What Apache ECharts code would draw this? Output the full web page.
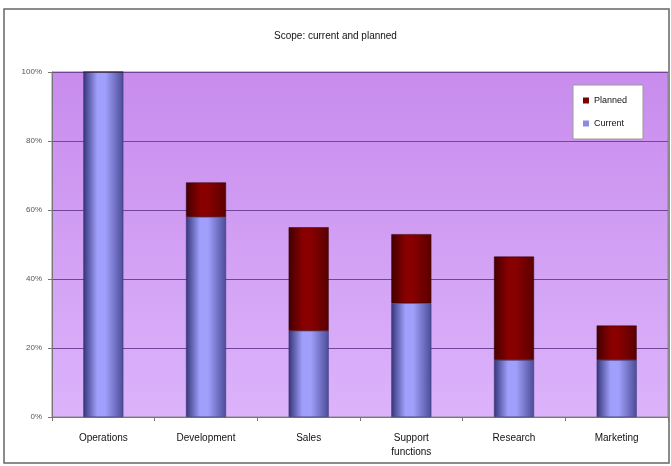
<!DOCTYPE html>
<html>
<head>
<meta charset="utf-8">
<script src="https://cdn.jsdelivr.net/npm/echarts@6/dist/echarts.min.js"></script>
<style>
  html, body { margin: 0; padding: 0; background: #fff; }
  #chart { width: 671px; height: 466px; }
</style>
</head>
<body>
<div id="chart"></div>
<script>
const categories = ['Operations', 'Development', 'Sales', 'Support\nfunctions', 'Research', 'Marketing'];
const currentValues = [100, 58, 25, 33, 16.5, 16.5];
const plannedValues = [0, 10, 30, 20, 30, 10];
const yTicks = [0, 20, 40, 60, 80, 100];

var myChart = echarts.init(document.getElementById('chart'));

// horizontal shading like the old office bars: dark edges, light middle
const barGrad = (left, mid, right) =>
  new echarts.graphic.LinearGradient(0, 0, 1, 0, [
    { offset: 0, color: left },
    { offset: 0.35, color: mid },
    { offset: 0.55, color: mid },
    { offset: 1, color: right },
  ]);

myChart.setOption({
  backgroundColor: '#fff',
  animation: false,
  textStyle: { fontFamily: 'Liberation Sans, Arial, sans-serif' },
  title: {
    text: 'Scope: current and planned',
    left: 'center',
    top: 26,
    textStyle: { fontSize: 10, fontWeight: 'normal', color: '#111' },
  },
  legend: {
    right: 28,
    top: 85,
    orient: 'vertical',
    data: [
      { name: 'Planned', itemStyle: { color: '#7a0000' } },
      { name: 'Current', itemStyle: { color: '#8c8ce8' } },
    ],
    backgroundColor: '#fff',
    borderColor: '#999',
    borderWidth: 1,
    padding: [11, 16, 11, 10],
    itemGap: 14,
    itemWidth: 6,
    itemHeight: 6,
    icon: 'rect',
    itemStyle: { borderWidth: 0 },
    textStyle: { fontSize: 9, color: '#111' },
  },
  graphic: [
    {
      type: 'rect',
      shape: { x: 4, y: 9, width: 665, height: 454 },
      style: { fill: 'none', stroke: '#666', lineWidth: 1.5 },
      z: -1,
    },
  ],
  grid: {
    left: 52,
    right: 3,
    top: 72,
    bottom: 49,
    show: true,
    backgroundColor: new echarts.graphic.LinearGradient(0, 0, 0, 1, [
      { offset: 0, color: '#c88ced' },
      { offset: 1, color: '#dcb3fb' },
    ]),
    borderColor: '#888',
    borderWidth: 1,
  },
  xAxis: {
    type: 'category',
    data: categories,
    axisLine: { lineStyle: { color: '#777' } },
    axisTick: { show: true, length: 4, lineStyle: { color: '#777' } },
    axisLabel: { fontSize: 10, color: '#111', margin: 14, lineHeight: 14 },
  },
  yAxis: {
    type: 'value',
    min: 0,
    max: 100,
    interval: 20,
    axisLine: { show: true, lineStyle: { color: '#777' } },
    axisTick: { show: true, length: 4, lineStyle: { color: '#777' } },
    axisLabel: {
      fontSize: 8,
      color: '#555',
      margin: 10,
      formatter: v => (yTicks.includes(v) ? v + '%' : ''),
    },
    splitLine: { show: true, lineStyle: { color: '#74449a', width: 1 } },
  },
  series: [
    {
      name: 'Current',
      type: 'bar',
      stack: 'scope',
      barWidth: 40,
      data: currentValues,
      itemStyle: {
        color: barGrad('#35357a', '#a0a0fc', '#4c4c98'),
        borderColor: '#2e2e66',
        borderWidth: 0.5,
      },
    },
    {
      name: 'Planned',
      type: 'bar',
      stack: 'scope',
      barWidth: 40,
      data: plannedValues,
      itemStyle: {
        color: barGrad('#420000', '#880000', '#5a0000'),
        borderColor: '#300000',
        borderWidth: 0.5,
      },
    },
  ],
}, true);
</script>
</body>
</html>
